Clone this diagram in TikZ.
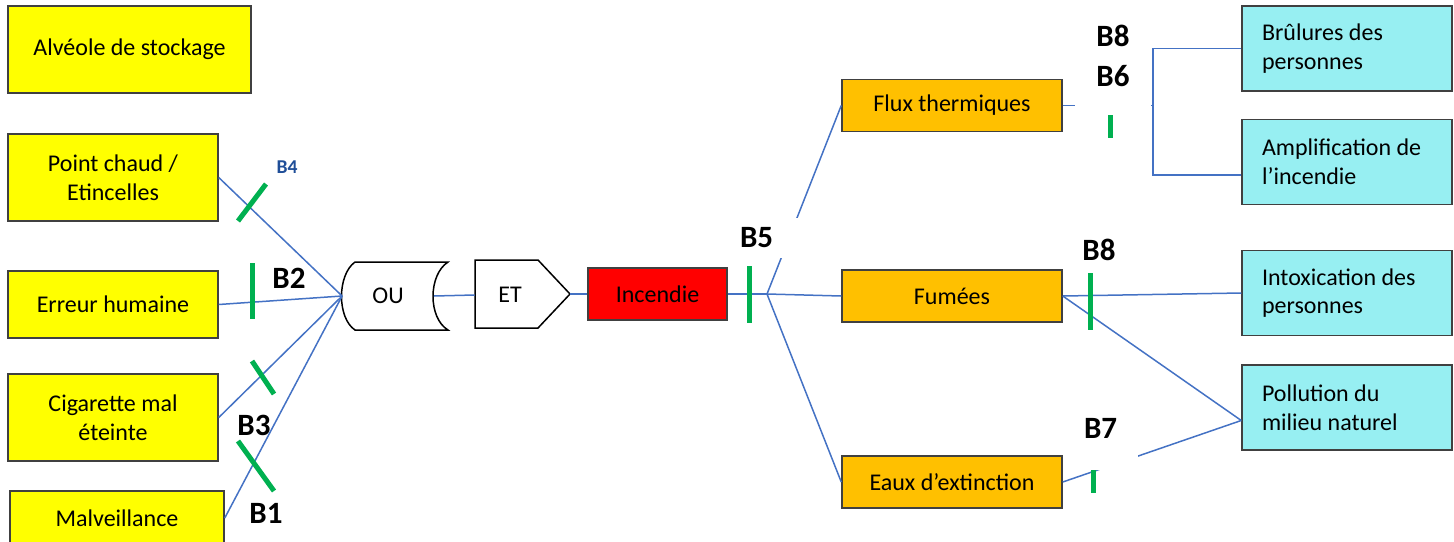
\documentclass[tikz,border=0pt]{standalone}
\usepackage{fontspec}
\setmainfont{Carlito}
\usetikzlibrary{positioning}
\definecolor{lineblue}{RGB}{68,114,196}
\definecolor{barrgreen}{RGB}{0,176,80}
\definecolor{causeyellow}{RGB}{255,255,0}
\definecolor{evtorange}{RGB}{255,192,0}
\definecolor{effcyan}{RGB}{151,239,242}
\definecolor{labelblue}{RGB}{31,78,152}
\newcommand{\boxfont}{\fontsize{12}{14.3}\selectfont}
\newcommand{\barfont}{\bfseries\fontsize{15.5}{20}\selectfont}

\begin{document}
\begin{tikzpicture}[x=0.5pt, y=-0.5pt,
  box/.style={draw=black!75, line width=0.75pt, align=center, font=\boxfont, inner sep=2pt},
  cause/.style={box, fill=causeyellow, minimum width=105pt, minimum height=43.5pt},
  evt/.style={box, fill=evtorange, minimum width=110pt, minimum height=26pt},
  eff/.style={box, fill=effcyan, minimum width=105pt, minimum height=42.5pt, text width=85pt, align=flush left, inner xsep=10pt},
  link/.style={draw=lineblue, line width=0.75pt},
  barr/.style={draw=barrgreen, line width=2.5pt},
  blbl/.style={font=\barfont, inner sep=1pt}]
\useasboundingbox (0,0) rectangle (1454,541);
\clip (0,0) rectangle (1454,541);
\node[cause, minimum width=121.5pt] (alv) at (129.5,49.5) {Alvéole de stockage};
\node[cause] (pc) at (113,177.5) {Point chaud /\\ Etincelles};
\node[cause, minimum height=33.5pt] (err) at (113,304.5) {Erreur humaine};
\node[cause] (cig) at (113,417.5) {Cigarette mal\\ éteinte};
\node[cause, minimum width=107pt, minimum height=27pt] (malv) at (117,518) {Malveillance};
\node[font=\boxfont, minimum width=45.5pt, inner sep=0pt] (ou) at (388,296) {OU};
\draw[line width=0.75pt] (355,262) -- (448,262) .. controls (428,275) and (428,318) .. (448,330) -- (355,330) .. controls (337,318) and (337,275) .. (355,262);
\node[font=\boxfont, minimum width=35pt, inner sep=0pt] (et) at (510,295) {ET};
\draw[line width=0.75pt] (475,260) -- (538,260) -- (570,294) -- (538,328) -- (475,328) -- cycle;
\coordinate (etip) at (570,294);
\node[box, fill=red, minimum width=69.5pt, minimum height=26pt] (inc) at (657.5,294) {Incendie};
\node[evt] (flux) at (952,105.5) {Flux thermiques};
\node[evt] (fum) at (952,296) {Fumées};
\node[evt] (eaux) at (952,482) {Eaux d’extinction};
\node[eff] (brul) at (1347,48.5) {Brûlures des\\ personnes};
\node[eff] (ampl) at (1347,162) {Amplification de\\ l’incendie};
\node[eff] (intox) at (1347,293) {Intoxication des\\ personnes};
\node[eff] (poll) at (1347,407.5) {Pollution du\\ milieu naturel};
\coordinate (jn) at (767,294);
\coordinate (brk) at (1153,105.5);
\draw[link] (pc.east) -- (ou.west); \draw[link] (err.east) -- (ou.west);
\draw[link] (cig.east) -- (ou.west); \draw[link] (malv.east) -- (ou.west);
\draw[link] (ou.east) -- (et.west); \draw[link] (etip) -- (inc.west);
\draw[link] (inc.east) -- (jn); \draw[link] (jn) -- (flux.west);
\draw[link] (jn) -- (fum.west); \draw[link] (jn) -- (eaux.west);
\draw[link] (flux.east) -- (brk); \draw[link] (brul.west) -| (brk) |- (ampl.187);
\draw[link] (fum.east) -- (intox.west); \draw[link] (fum.east) -- (poll.187);
\draw[link] (eaux.east) -- (poll.187);
\draw[barr] (238,221) -- (266,184);
\draw[barr] (252,263) -- (252,319);
\draw[barr] (252,361) -- (274,394);
\draw[barr] (238,441) -- (274,491);
\draw[barr] (749,266) -- (749,323);
\draw[barr] (1090,273) -- (1090,330);
\draw[barr] (1110,105) -- (1110,138);
\draw[barr] (1093,470) -- (1093,493);
\node[blbl, font=\bfseries\fontsize{9.8}{12}\selectfont, text=labelblue] (b4) at (287,167) {B4};
\node[blbl] (b2) at (289,278) {B2};
\node[blbl] (b3) at (254,425) {B3};
\node[blbl] (b1) at (266,513) {B1};
\node[blbl, fill=white, text width=28pt, inner xsep=2pt, minimum height=20pt, align=flush left] (b5) at (768,238) {B5};
\node[blbl, fill=white, minimum width=38pt, minimum height=59pt, align=center] (b86) at (1113,56) {B8\\ B6};
\node[blbl] (b8) at (1099,250) {B8};
\node[blbl, fill=white, text width=26pt, inner xsep=1pt, minimum height=42pt, align=flush left] (b7) at (1110,428) {B7};
\end{tikzpicture}
\end{document}
